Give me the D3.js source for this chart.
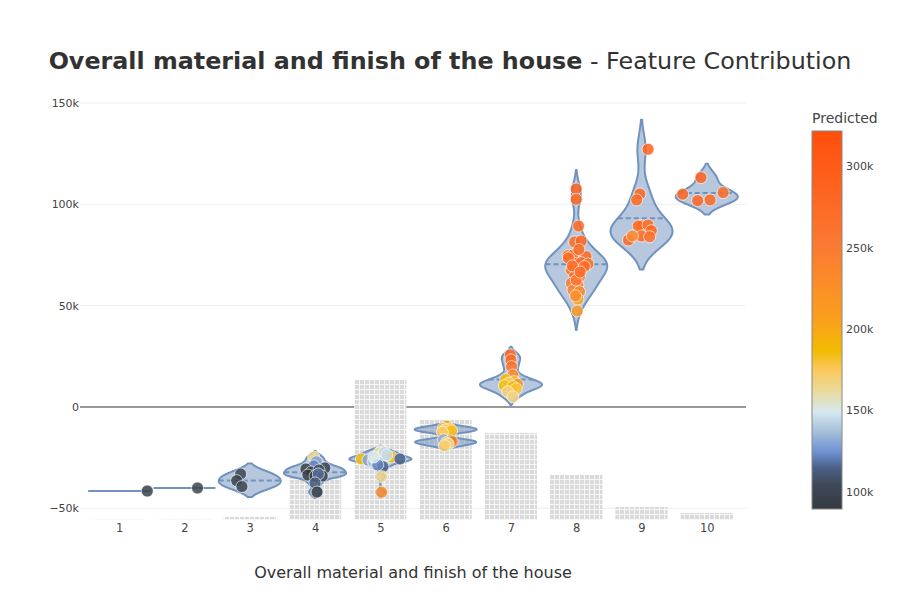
<!DOCTYPE html>
<html>
<head>
<meta charset="utf-8">
<script src="https://cdn.jsdelivr.net/npm/d3@7"></script>
<style>
  html, body { margin: 0; padding: 0; background: #fff; }
  svg { display: block; font-family: "DejaVu Sans", sans-serif; }
</style>
</head>
<body>
<svg id="chart" width="900" height="600"></svg>
<script>
// ---------------- DATA ----------------
const categories = ["1", "2", "3", "4", "5", "6", "7", "8", "9", "10"];
const barCounts = [2, 3, 9, 122, 397, 284, 247, 128, 37, 20];
const bandwidths = [0, 0, 2600, 1500, 1300, 1100, 2000, 4700, 7300, 3400];

const contributions = [
  [-41500],
  [-40000],
  [-33100, -36400, -39300],
  [-24700, -27100, -29100, -30600, -30100, -32100, -31100, -33600, -34100, -34100, -33100, -37500, -42000],
  [-25700, -26200, -27000, -26200, -21200, -22700, -22500, -26200, -24700, -25700, -29500, -28600, -34400, -42100, -24700, -23700],
  [-9500, -10500, -10800, -11300, -11800, -12500, -16200, -16800, -17100, -17600, -18300, -19200],
  [25700, 23200, 19900, 15800, 13500, 12500, 11800, 11200, 10500, 10000, 9000, 7500, 5000],
  [107600, 102500, 89300, 81400, 81900, 74700, 75000, 74200, 70900, 71200, 70600, 67600, 67600, 69300, 64300, 64300,
   61100, 60200, 57700, 56900, 53200, 47400, 73500, 77700, 69600, 62600, 54800, 66600],
  [127200, 105100, 102200, 89300, 89300, 89800, 87000, 84400, 84000, 82400, 84400],
  [113200, 105000, 105800, 101800, 102200]
];
const predicted = [
  [96000],
  [98000],
  [100000, 97000, 99000],
  [165000, 128000, 122000, 94000, 96000, 93000, 108000, 92000, 95000, 98000, 117000, 112000, 92000],
  [185000, 130000, 140000, 150000, 155000, 162000, 145000, 140000, 185000, 115000, 115000, 122000, 165000, 230000, 150000, 145000],
  [205000, 182000, 178000, 170000, 185000, 175000, 132000, 100000, 235000, 175000, 168000, 172000],
  [285000, 275000, 265000, 235000, 190000, 185000, 175000, 220000, 185000, 190000, 180000, 170000, 168000],
  [290000, 285000, 280000, 275000, 285000, 270000, 265000, 280000, 275000, 285000, 270000, 265000, 290000, 275000, 280000, 260000,
   250000, 255000, 240000, 235000, 205000, 215000, 275000, 280000, 270000, 258000, 230000, 272000],
  [290000, 285000, 280000, 285000, 280000, 275000, 280000, 275000, 270000, 280000, 235000],
  [290000, 285000, 280000, 285000, 280000]
];
// horizontal jitter of each point, as a fraction of the category spacing
const jitter = [
  [0.43],
  [0.2],
  [-0.14, -0.2, -0.12],
  [-0.02, 0.02, -0.02, -0.14, 0.15, -0.06, 0.06, -0.11, 0.0, 0.11, 0.05, 0.0, 0.03],
  [-0.29, -0.19, -0.11, -0.06, 0.02, -0.02, 0.06, 0.07, 0.17, 0.3, 0.04, -0.04, 0.02, 0.02, -0.1, 0.1],
  [0.02, -0.035, 0.065, -0.01, 0.09, -0.05, -0.035, 0.08, 0.1, 0.015, 0.04, -0.02],
  [-0.01, 0.0, 0.01, 0.03, -0.08, 0.05, -0.03, 0.1, -0.1, 0.03, 0.08, -0.05, 0.03],
  [0.0, 0.0, 0.035, -0.025, 0.075, -0.125, -0.05, 0.15, -0.025, 0.075, 0.18, -0.075, 0.025, 0.125, -0.025, 0.05,
   -0.075, 0.025, -0.05, 0.05, 0.025, 0.015, -0.12, 0.04, -0.06, 0.0, -0.01, 0.06],
  [0.1, -0.025, -0.075, 0.0, -0.05, 0.1, 0.15, 0.0, 0.125, -0.2, -0.14],
  [-0.09, -0.37, 0.25, -0.14, 0.05]
];
const yTicks = [-50000, 0, 50000, 100000, 150000];
const colorTicks = [100000, 150000, 200000, 250000, 300000];
const colorStopValues = [89500, 105000, 115000, 125000, 137000, 149000, 162000, 175000, 187000, 205000, 250000, 321500];
const colorStopColors = ["#343a40", "#3f4a5a", "#4c6188", "#6f93d4", "#a7bfd9", "#d6e9f0", "#eadb9c", "#fbc85c",
                         "#f2bb00", "#faa01c", "#fb7a33", "#ff4e0c"];
const titleBold = "Overall material and finish of the house";
const titleRest = " - Feature Contribution";
const xTitle = "Overall material and finish of the house";
const colorTitle = "Predicted";

// ---------------- LAYOUT ----------------
const svg = d3.select("#chart");
const plot = { left: 80, right: 746, top: 100, bottom: 520 };

const x = d3.scalePoint().domain(categories).range([plot.left, plot.right]).padding(0.6);
const step = x.step();
const y = d3.scaleLinear().domain([-55800, 151500]).range([plot.bottom, plot.top]);
const yBar = d3.scaleLinear().domain([0, 1191]).range([plot.bottom, plot.top]);
const color = d3.scaleLinear().domain(colorStopValues).range(colorStopColors).interpolate(d3.interpolateRgb).clamp(true);

const defs = svg.append("defs");
const pat = defs.append("pattern").attr("id", "grid").attr("patternUnits", "userSpaceOnUse")
  .attr("width", 5).attr("height", 5);
pat.append("rect").attr("width", 5).attr("height", 5).attr("fill", "#f7f7f7");
pat.append("rect").attr("x", 0).attr("y", 0).attr("width", 4).attr("height", 4).attr("fill", "#dadada");

// gridlines
svg.append("g").selectAll("line").data(yTicks.filter(d => d !== 0)).join("line")
  .attr("x1", plot.left).attr("x2", plot.right)
  .attr("y1", d => y(d)).attr("y2", d => y(d))
  .attr("stroke", "#eeeeee").attr("stroke-width", 1);
svg.append("line").attr("x1", plot.left).attr("x2", plot.right)
  .attr("y1", y(0)).attr("y2", y(0)).attr("stroke", "#999").attr("stroke-width", 2);

// y axis
const yAxis = d3.axisLeft(y).tickValues(yTicks).tickSize(0).tickPadding(1)
  .tickFormat(d => d === 0 ? "0" : (d < 0 ? "\u2212" : "") + Math.abs(d / 1000) + "k");
const gy = svg.append("g").attr("transform", `translate(${plot.left},0)`).call(yAxis);
gy.select(".domain").remove();
gy.selectAll("text").attr("fill", "#444").attr("font-size", 11).attr("font-family", "DejaVu Sans, sans-serif");

// x axis
const xAxis = d3.axisBottom(x).tickSize(0).tickPadding(4);
const gx = svg.append("g").attr("transform", `translate(0,${plot.bottom})`).call(xAxis);
gx.select(".domain").remove();
gx.selectAll("text").attr("fill", "#444").attr("font-size", 11.5).attr("font-family", "DejaVu Sans, sans-serif");

// histogram bars
const barW = step * 0.8;
svg.append("g").selectAll("rect").data(categories).join("rect")
  .attr("x", d => x(d) - barW / 2)
  .attr("width", barW)
  .attr("y", (d, i) => yBar(barCounts[i]))
  .attr("height", (d, i) => yBar(0) - yBar(barCounts[i]))
  .attr("fill", "url(#grid)");

// violins
const halfW = step * 0.475;
const lineCol = "rgb(112,146,190)";
function kde(vals, bw, v) {
  let s = 0;
  for (const xi of vals) { const u = (v - xi) / bw; s += Math.exp(-0.5 * u * u); }
  return s / (vals.length * bw * Math.sqrt(2 * Math.PI));
}
const gv = svg.append("g");
categories.forEach((c, i) => {
  const vals = contributions[i];
  const bw = bandwidths[i];
  const cx = x(c);
  const mean = d3.mean(vals);
  if (!bw || vals.length < 2) {
    gv.append("line").attr("x1", cx - halfW).attr("x2", cx + halfW)
      .attr("y1", y(mean)).attr("y2", y(mean))
      .attr("stroke", lineCol).attr("stroke-width", 2);
    return;
  }
  const lo = d3.min(vals) - 2 * bw, hi = d3.max(vals) + 2 * bw;
  const N = 160;
  const grid = d3.range(N + 1).map(k => lo + (hi - lo) * k / N);
  const dens = grid.map(v => kde(vals, bw, v));
  const maxD = d3.max(dens);
  const pts = grid.map((v, k) => ({ v, w: dens[k] / maxD * halfW }));
  const area = d3.area().x0(d => cx - d.w).x1(d => cx + d.w).y(d => y(d.v)).curve(d3.curveLinear);
  gv.append("path").attr("d", area(pts))
    .attr("fill", lineCol).attr("fill-opacity", 0.5)
    .attr("stroke", lineCol).attr("stroke-width", 2).attr("stroke-linejoin", "round");
  const wm = kde(vals, bw, mean) / maxD * halfW;
  gv.append("line").attr("x1", cx - wm).attr("x2", cx + wm)
    .attr("y1", y(mean)).attr("y2", y(mean))
    .attr("stroke", lineCol).attr("stroke-width", 2).attr("stroke-dasharray", "5,3");
});

// points
const gp = svg.append("g");
categories.forEach((c, i) => {
  const pts = contributions[i].map((v, k) => ({ v, p: predicted[i][k], j: jitter[i][k] }));
  gp.selectAll(null).data(pts).join("circle")
    .attr("cx", d => x(c) + d.j * step)
    .attr("cy", d => y(d.v))
    .attr("r", 6)
    .attr("fill", d => color(d.p))
    .attr("fill-opacity", 0.85)
    .attr("stroke", "rgba(255,255,255,0.8)").attr("stroke-width", 0.8);
});

// titles
svg.append("text").attr("x", 450).attr("y", 69).attr("text-anchor", "middle")
  .attr("font-size", 23.8).attr("fill", "rgb(50,50,50)")
  .call(t => {
    t.append("tspan").attr("font-weight", "bold").text(titleBold);
    t.append("tspan").text(titleRest);
  });
svg.append("text").attr("x", (plot.left + plot.right) / 2).attr("y", 578).attr("text-anchor", "middle")
  .attr("font-size", 16).attr("fill", "rgb(50,50,50)").text(xTitle);

// colorbar
const cb = { x: 812, w: 30, top: 131, bottom: 509 };
const cy = d3.scaleLinear().domain([colorStopValues[0], colorStopValues[colorStopValues.length - 1]]).range([cb.bottom, cb.top]);
const grad = defs.append("linearGradient").attr("id", "cbgrad")
  .attr("x1", 0).attr("y1", 1).attr("x2", 0).attr("y2", 0);
const gd = cy.domain();
grad.selectAll("stop").data(colorStopValues).join("stop")
  .attr("offset", d => (d - gd[0]) / (gd[1] - gd[0]))
  .attr("stop-color", (d, i) => colorStopColors[i]);
svg.append("rect").attr("x", cb.x).attr("y", cb.top).attr("width", cb.w).attr("height", cb.bottom - cb.top)
  .attr("fill", "url(#cbgrad)").attr("stroke", "#888").attr("stroke-width", 1);
const cAxis = d3.axisRight(cy).tickValues(colorTicks).tickSize(0).tickPadding(4)
  .tickFormat(d => Math.round(d / 1000) + "k");
const gc = svg.append("g").attr("transform", `translate(${cb.x + cb.w},0)`).call(cAxis);
gc.select(".domain").remove();
gc.selectAll("text").attr("fill", "#444").attr("font-size", 11).attr("font-family", "DejaVu Sans, sans-serif");
svg.append("text").attr("x", cb.x).attr("y", 123).attr("font-size", 14).attr("fill", "#444").text(colorTitle);
</script>
</body>
</html>
